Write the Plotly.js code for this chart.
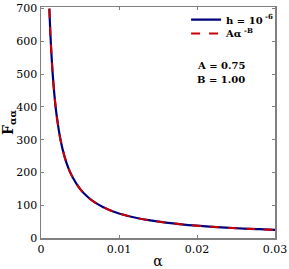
<!DOCTYPE html>
<html><head><meta charset="utf-8">
<script src="https://cdn.plot.ly/plotly-3.0.1.min.js"></script>
<style>html,body{margin:0;padding:0;background:#fff}</style>
</head><body><div id="chart" style="width:289px;height:269px"></div>
<script>
const alpha = [0.00107, 0.0012, 0.0014, 0.0016, 0.0018, 0.002, 0.0025, 0.003, 0.0035, 0.004, 0.005, 0.006, 0.007, 0.008, 0.009, 0.01, 0.012, 0.014, 0.016, 0.018, 0.02, 0.022, 0.024, 0.026, 0.028, 0.03];
const fNumeric = [700, 625, 536, 469, 417, 375, 300, 250, 214, 188, 150, 125, 107, 94, 83, 75, 62.5, 53.6, 46.9, 41.7, 37.5, 34.1, 31.3, 28.8, 26.8, 25];
const fFit = [700, 625, 536, 469, 417, 375, 300, 250, 214, 188, 150, 125, 107, 94, 83, 75, 62.5, 53.6, 46.9, 41.7, 37.5, 34.1, 31.3, 28.8, 26.8, 25];
const seriesNames = ['h = 10<sup> -6</sup>', 'Aα<sup> -B</sup>'];
const xTicks = [0, 0.01, 0.02, 0.03];
const xTickText = ['0', '0.01', '0.02', '0.03'];
const yTicks = [0, 100, 200, 300, 400, 500, 600, 700];
const paramText = ['A = 0.75', 'B = 1.00'];

const fam = 'DejaVu Serif';
const tickFont = {family: fam, size: 11, color: '#000'};
const traces = [
  {x: alpha, y: fNumeric, name: seriesNames[0], mode: 'lines', legend: 'legend', line: {color: '#00007f', width: 2.2, shape: 'spline'}},
  {x: alpha, y: fFit, name: seriesNames[1], mode: 'lines', legend: 'legend2', line: {color: '#cc0000', width: 2, dash: 'dash', shape: 'spline'}}
];
function axis(extra) {
  return Object.assign({showgrid: false, zeroline: false, showline: true, mirror: 'ticks', linecolor: '#808080', linewidth: 1.5,
    ticks: 'inside', ticklen: 3, tickcolor: '#808080', tickfont: Object.assign({}, tickFont), ticklabeloverflow: 'allow'}, extra);
}
function legendAt(y) {
  return {x: 0.62, y: y, xanchor: 'left', yanchor: 'middle', bgcolor: 'rgba(0,0,0,0)', itemwidth: 30,
    font: {family: fam, size: 10, color: '#000', weight: 'bold'}};
}
const layout = {
  width: 289, height: 269,
  margin: {l: 41, r: 14, t: 5, b: 31},
  paper_bgcolor: '#fff', plot_bgcolor: '#fff',
  font: {family: fam, size: 11, color: '#000'},
  showlegend: true,
  legend: legendAt(0.945),
  legend2: legendAt(0.885),
  xaxis: axis({range: [0, 0.03], tickvals: xTicks, ticktext: xTickText,
    title: {text: 'α', font: {family: fam, size: 14}, standoff: 4}}),
  yaxis: axis({range: [0, 705], tickvals: yTicks,
    title: {text: 'F<sub>αα</sub>', font: {family: fam, size: 14, weight: 'bold'}, standoff: 2}}),
  annotations: [
    {xref: 'paper', yref: 'paper', x: 0.66, y: 0.747, xanchor: 'left', yanchor: 'middle', text: paramText[0], showarrow: false, font: {family: fam, size: 10, weight: 'bold'}},
    {xref: 'paper', yref: 'paper', x: 0.66, y: 0.687, xanchor: 'left', yanchor: 'middle', text: paramText[1], showarrow: false, font: {family: fam, size: 10, weight: 'bold'}}
  ]
};
Plotly.newPlot('chart', traces, layout, {displayModeBar: false, staticPlot: true});
</script></body></html>
